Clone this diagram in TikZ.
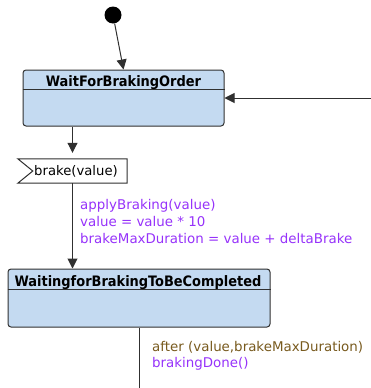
\documentclass[tikz,border=0pt]{standalone}
\usepackage{fontspec}
\setmainfont{DejaVu Sans}
\newfontfamily\titlefont{DejaVu Sans Condensed Bold}
\usetikzlibrary{arrows.meta,calc}
\definecolor{statefill}{RGB}{196,218,241}
\definecolor{edgegray}{RGB}{48,48,48}
\definecolor{actionpurple}{RGB}{150,50,250}
\definecolor{guardbrown}{RGB}{120,90,30}
\tikzset{
  statebox/.style={draw=edgegray, fill=statefill, rounded corners=3pt, line width=1pt, inner sep=0pt},
  statetitle/.style={font=\titlefont\fontsize{14.4}{16}\selectfont, anchor=base, inner sep=0pt},
  flow/.style={draw=edgegray, line width=1pt, -{Triangle[length=10pt,width=10pt]}},
  plainflow/.style={draw=edgegray, line width=1pt},
  action/.style={font=\fontsize{13.4}{15}\selectfont, text=actionpurple, anchor=base west, inner sep=0pt},
  guard/.style={font=\fontsize{13.4}{15}\selectfont, text=guardbrown, anchor=base west, inner sep=0pt},
  signaltext/.style={font=\fontsize{13.2}{15}\selectfont, anchor=base, inner sep=0pt},
}
\begin{document}
\begin{tikzpicture}[x=1pt,y=-1pt]
\useasboundingbox (0,0) rectangle (371,388);

% initial pseudo-state
\node[circle, fill=black, minimum size=17pt, inner sep=0pt] (init) at (113,15) {};

% state: WaitForBrakingOrder
\node[statebox, minimum width=201pt, minimum height=56pt] (s1) at (123.5,98) {};
\draw[edgegray, line width=1pt] ($(s1.north west)+(0,20)$) -- ($(s1.north east)+(0,20)$);
\node[statetitle] (s1title) at (123.5,86) {WaitForBrakingOrder};

% receive-signal box
\node[minimum width=109pt, minimum height=24pt, inner sep=0pt] (sig) at (72.5,171) {};
\draw[edgegray, line width=1pt, fill=white]
  (sig.north west) -- (sig.north east) -- (sig.south east) -- (sig.south west)
  -- ($(sig.west)+(15,0)$) -- cycle;
\node[signaltext] (sigtext) at (76,175) {brake(value)};

% state: WaitingforBrakingToBeCompleted
\node[statebox, minimum width=262pt, minimum height=58pt] (s2) at (139,298) {};
\draw[edgegray, line width=1pt] ($(s2.north west)+(0,21)$) -- ($(s2.north east)+(0,21)$);
\node[statetitle] (s2title) at (138,286) {WaitingforBrakingToBeCompleted};

% free ends
\coordinate (incoming) at (371,98);
\coordinate (outgoing) at (139,388);

% transitions
\draw[flow] (init) -- (s1.north);
\draw[flow] (incoming) -- (s1.east);
\draw[flow, shorten >=6pt] (s1.south -| sig) -- (sig.north);
\draw[flow] (sig.south) -- (sig.south |- s2.north);
\draw[plainflow] (s2.south) -- (outgoing);

% transition labels
\node[action] (act1) at (80,209) {applyBraking(value)};
\node[action] (act2) at (80,226) {value = value * 10};
\node[action] (act3) at (80,243) {brakeMaxDuration = value + deltaBrake};
\node[guard] (after) at (152,351) {after (value,brakeMaxDuration)};
\node[action] (done) at (152,367) {brakingDone()};
\end{tikzpicture}
\end{document}
